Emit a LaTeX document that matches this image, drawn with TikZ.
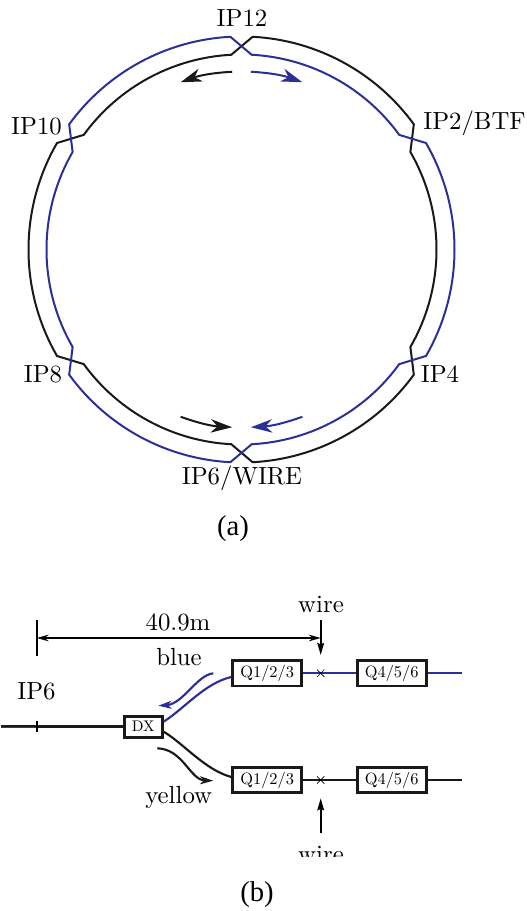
\documentclass[tikz,border=0pt]{standalone}
\usepackage{fontspec}
\newfontfamily\capfont{Liberation Serif}
\newfontfamily\labelfont{lmroman10-regular.otf}
\usetikzlibrary{arrows.meta,shapes.misc}
\definecolor{ringblue}{RGB}{43,47,150}
\tikzset{
  ringline/.style={line width=1.5pt, line join=miter},
  ringarrow/.style={-{Stealth[length=16pt,width=10pt,inset=5pt]}, line width=1.5pt},
  iplabel/.style={font=\labelfont\fontsize{18.6}{20}\selectfont, inner sep=0pt},
  caplabel/.style={font=\capfont\fontsize{21.5}{24}\selectfont, inner sep=0pt},
  magnet/.style={draw=black!90, fill=white, line width=2pt, inner sep=0pt, font=\labelfont\fontsize{12.3}{14}\selectfont},
  beam/.style={line width=1.6pt},
  beamarrow/.style={-{Stealth[length=10pt,width=6pt,inset=3pt]}, line width=1.6pt},
  dimarrow/.style={{Stealth[length=9pt,width=5pt,inset=3pt]}-{Stealth[length=9pt,width=5pt,inset=3pt]}, line width=1.3pt},
  wirearrow/.style={-{Stealth[length=9pt,width=5pt,inset=1pt]}, line width=1.4pt},
  wiremark/.style={cross out, draw=black, line width=0.5pt, minimum size=5pt, inner sep=0pt},
  tickmark/.style={line width=1.4pt}
}
\begin{document}
\begin{tikzpicture}[x=0.75pt,y=0.75pt]
  \useasboundingbox (0,0) rectangle (527,911);
  % ring
  \begin{scope}[shift={(241.5,661.5)}]
    \draw[ringline, black!90] (87:213) arc[start angle=87,end angle=36,radius=213] -- (30:195) arc[start angle=30,end angle=-30,radius=195] -- (-36:213) arc[start angle=-36,end angle=-87,radius=213] -- (-93:195) arc[start angle=-93,end angle=-144,radius=195] -- (-150:213) arc[start angle=-150,end angle=-210,radius=213] -- (-216:195) arc[start angle=-216,end angle=-267,radius=195] -- cycle;
    \draw[ringline, ringblue] (87:195) arc[start angle=87,end angle=36,radius=195] -- (30:213) arc[start angle=30,end angle=-30,radius=213] -- (-36:195) arc[start angle=-36,end angle=-87,radius=195] -- (-93:213) arc[start angle=-93,end angle=-144,radius=213] -- (-150:195) arc[start angle=-150,end angle=-210,radius=195] -- (-216:213) arc[start angle=-216,end angle=-267,radius=213] -- cycle;
    \coordinate (topblackstart) at (93:178);
    \coordinate (topblackend) at (110:178);
    \coordinate (topbluestart) at (87:178);
    \coordinate (topblueend) at (70:178);
    \coordinate (botblackstart) at (-110:178);
    \coordinate (botblackend) at (-93:178);
    \coordinate (botbluestart) at (-70:178);
    \coordinate (botblueend) at (-87:178);
  \end{scope}
  \draw[ringarrow, black!90] (topblackstart) to[bend right=8] (topblackend);
  \draw[ringarrow, ringblue] (topbluestart) to[bend left=8] (topblueend);
  \draw[ringarrow, black!90] (botblackstart) to[bend right=8] (botblackend);
  \draw[ringarrow, ringblue] (botbluestart) to[bend left=8] (botblueend);
  \node[iplabel] (ip12) at (242,893) {IP12};
  \node[iplabel] (ip10) at (36.5,785) {IP10};
  \node[iplabel] (ip2) at (474.5,788) {IP2/BTF};
  \node[iplabel] (ip8) at (43,537) {IP8};
  \node[iplabel] (ip4) at (440,537) {IP4};
  \node[iplabel] (ip6wire) at (242,433) {IP6/WIRE};
  \node[caplabel] (capa) at (233,382) {(a)};
  % magnets
  \coordinate (lineleft) at (1,184.8);
  \coordinate (linelow) at (1,183.8);
  \coordinate (ipmark) at (36.7,184.8);
  \draw[line width=1.2pt, ringblue] (linelow) -- (124,183.8);
  \draw[line width=1.2pt, black!90] (lineleft) -- (ipmark);
  \draw[line width=2.4pt, black!90] (ipmark) -- (124,184.8);
  \node[magnet, minimum width=28.5pt, minimum height=15.75pt, font=\labelfont\fontsize{11.5}{12}\selectfont] (dx) at (143.3,184.3) {DX};
  \node[magnet, minimum width=51.75pt, minimum height=19pt] (q1b) at (267.2,237.7) {Q1/2/3};
  \node[magnet, minimum width=51.75pt, minimum height=19pt] (q4b) at (391.7,237.7) {Q4/5/6};
  \node[magnet, minimum width=51.75pt, minimum height=19pt] (q1y) at (267.2,131) {Q1/2/3};
  \node[magnet, minimum width=51.75pt, minimum height=19pt] (q4y) at (391.7,131) {Q4/5/6};
  \coordinate (bluend) at (462,237.7);
  \coordinate (yelend) at (462,131);
  \coordinate (dimleft) at (36.7,273);
  \coordinate (dimright) at (320.7,273);
  \coordinate (dimtop) at (36.7,291);
  \coordinate (dimbot) at (36.7,255.3);
  % beams
  \draw[beam, ringblue] (q1b.west |- 0,234) .. controls (205,228) and (185,203) .. (dx.east |- 0,189.3);
  \draw[beam, black!90] (dx.east |- 0,179.3) .. controls (183,168) and (205,141) .. (q1y.west |- 0,134);
  \draw[beam, ringblue] (q1b.east) -- (q4b.west);
  \draw[beam, ringblue] (q4b.east) -- (bluend);
  \draw[beam, black!90] (q1y.east) -- (q4y.west);
  \draw[beam, black!90] (q4y.east) -- (yelend);
  \node[wiremark] (crossb) at (320.7,237.7) {};
  \node[wiremark] (crossy) at (320.7,131) {};
  \coordinate (bluearrowstart) at (213.3,237.7);
  \coordinate (bluearrowend) at (158.3,205.3);
  \coordinate (yelarrowstart) at (157.3,162.7);
  \coordinate (yelarrowend) at (213.3,130.3);
  \draw[beamarrow, ringblue] (bluearrowstart) .. controls (197,236) and (183,207) .. (bluearrowend);
  \draw[beamarrow, black!90] (yelarrowstart) .. controls (183,162) and (190,131) .. (yelarrowend);
  % dimension and wire
  \draw[tickmark] (dimtop) -- (dimbot);
  \coordinate (iptop) at (36.7,189.5);
  \coordinate (ipbot) at (36.7,179);
  \draw[tickmark] (iptop) -- (ipbot);
  \draw[dimarrow] (dimleft) -- (dimright);
  \coordinate (wiretop) at (320.7,291);
  \coordinate (wiretoptip) at (320.7,256);
  \coordinate (wirebot) at (320.7,77.7);
  \coordinate (wirebottip) at (320.7,112.7);
  \draw[wirearrow] (wiretop) -- (wiretoptip);
  \draw[wirearrow] (wirebot) -- (wirebottip);
  \node[iplabel] (wireb) at (321,307) {wire};
  \node[iplabel] (dimtext) at (178,289) {40.9m};
  \node[iplabel] (bluetext) at (179,254) {blue};
  \node[iplabel] (iptext) at (36.5,219.3) {IP6};
  \node[iplabel] (yeltext) at (178.7,114) {yellow};
  \begin{scope}
    \clip (290,54) rectangle (350,80);
    \node[iplabel] (wirey) at (321,57) {wire};
  \end{scope}
  \node[caplabel] (capb) at (257,16) {(b)};
\end{tikzpicture}
\end{document}
